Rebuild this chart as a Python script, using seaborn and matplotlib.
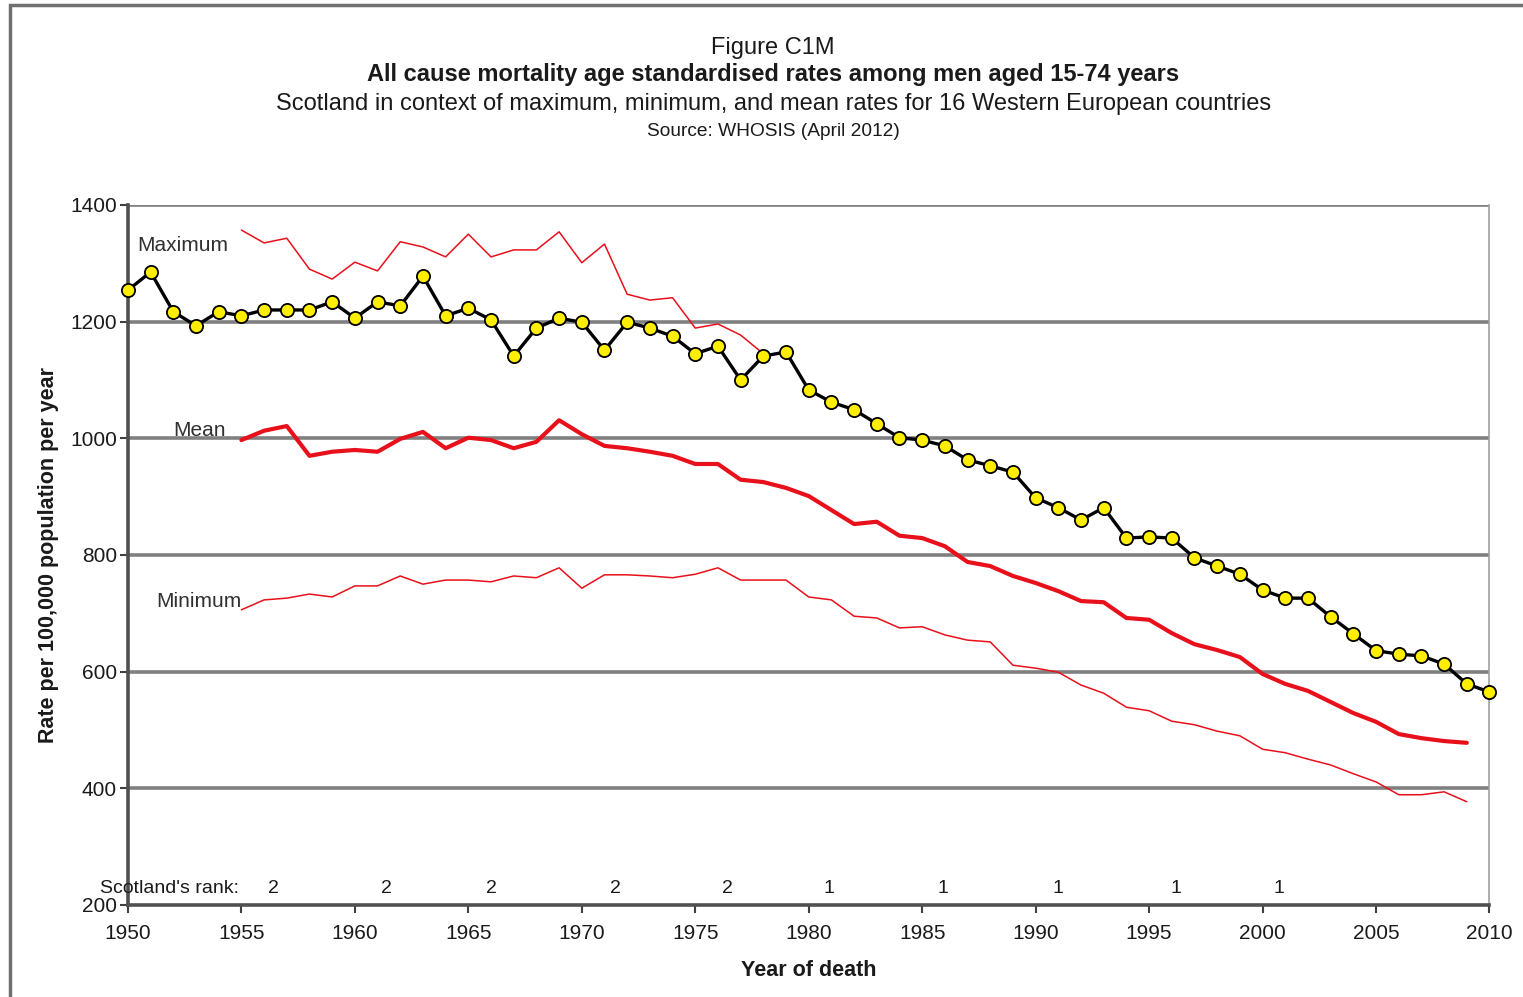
import numpy as np
import pandas as pd
import seaborn as sns
from matplotlib import pyplot as plt
from matplotlib.patches import Rectangle

# Scotland, 1950-2010
years = list(range(1950, 2011))
scotland = [1254, 1285, 1217, 1193, 1217, 1210, 1220, 1220, 1220, 1234,
            1206, 1234, 1227, 1278, 1210, 1223, 1203, 1141, 1189, 1206,
            1199, 1151, 1199, 1189, 1175, 1145, 1158, 1100, 1141, 1148,
            1083, 1062, 1049, 1025, 1001, 997, 987, 963, 953, 942,
            898, 881, 860, 881, 829, 831, 829, 795, 781, 767,
            740, 726, 726, 694, 665, 636, 630, 627, 613, 579, 565]

# Western Europe max (visible until Scotland becomes the maximum)
max_years = list(range(1955, 1979))
max_rate = [1357, 1335, 1343, 1290, 1273, 1302, 1287, 1337, 1328, 1311,
            1350, 1311, 1323, 1323, 1354, 1301, 1333, 1247, 1237, 1241,
            1189, 1196, 1177, 1145]

# mean and minimum, 1955-2009
wy = list(range(1955, 2010))
mean_rate = [997, 1013, 1021, 970, 977, 980, 977, 999, 1011, 983,
             1001, 997, 983, 994, 1031, 1007, 987, 983, 977, 970,
             956, 956, 929, 925, 915, 901, 877, 853, 857, 833,
             829, 815, 788, 781, 764, 752, 738, 721, 719, 692,
             689, 666, 647, 637, 625, 596, 579, 567, 548, 529,
             514, 493, 486, 481, 478]
min_rate = [706, 723, 726, 733, 728, 747, 747, 764, 750, 757,
            757, 754, 764, 761, 778, 743, 766, 766, 764, 761,
            767, 778, 757, 757, 757, 728, 723, 695, 692, 675,
            677, 663, 654, 651, 611, 606, 599, 577, 563, 539,
            533, 515, 509, 498, 490, 467, 461, 450, 440, 425,
            411, 389, 389, 394, 377]

rank_x = [1956.4, 1961.4, 1966.0, 1971.5, 1976.4, 1980.9, 1985.9, 1991.0, 1996.2, 2000.7]
rank_val = ['2', '2', '2', '2', '2', '1', '1', '1', '1', '1']

scot_df = pd.DataFrame({'year': years, 'rate': scotland})
max_df = pd.DataFrame({'year': max_years, 'rate': max_rate})
wdf = pd.DataFrame({'year': wy, 'mean': mean_rate, 'min': min_rate})

sns.set_style('white')
plt.rcParams['font.family'] = ['Liberation Sans', 'DejaVu Sans']

red = '#e8101a'
grid = '#808080'
txt = '#1a1a1a'

fig = plt.figure(figsize=(15.23, 9.97), dpi=100)
ax = fig.add_axes([0.084, 0.0923, 0.894, 0.7021])

for v in [400, 600, 800, 1000, 1200, 1400]:
    ax.axhline(v, color=grid, lw=2.6, zorder=1)

sns.lineplot(data=max_df, x='year', y='rate', ax=ax, color=red, lw=1.1, zorder=2)
sns.lineplot(data=wdf, x='year', y='min', ax=ax, color=red, lw=1.1, zorder=2)
sns.lineplot(data=wdf, x='year', y='mean', ax=ax, color=red, lw=3.0, zorder=3)
sns.lineplot(data=scot_df, x='year', y='rate', ax=ax, color='black', lw=2.4,
             marker='o', markersize=9.5, markerfacecolor='#ffee00',
             markeredgecolor='black', markeredgewidth=1.3, zorder=5, clip_on=False)

ax.set_xlim(1950, 2010)
ax.set_ylim(200, 1400)
ax.set_xticks(range(1950, 2011, 5))
ax.set_yticks(range(200, 1401, 200))
ax.tick_params(axis='both', labelsize=15, direction='out', length=6, width=1.5,
               color='#404040', labelcolor=txt, bottom=True, left=True)
ax.tick_params(axis='y', pad=2)
ax.tick_params(axis='x', pad=8)

for s in ['left', 'bottom']:
    ax.spines[s].set_color('#505050')
    ax.spines[s].set_linewidth(2.6)
ax.spines['top'].set_visible(False)
ax.spines['right'].set_color('#a0a0a0')
ax.spines['right'].set_linewidth(1.2)

ax.set_xlabel('Year of death', fontsize=15.5, fontweight='bold', labelpad=12, color=txt)
ax.set_ylabel('Rate per 100,000 population per year', fontsize=15.5, fontweight='bold',
              labelpad=8, color=txt)

ax.text(1950.4, 1331, 'Maximum', fontsize=15, color='#303030', va='center', ha='left')
ax.text(1954.3, 1013, 'Mean', fontsize=15, color='#303030', va='center', ha='right')
ax.text(1955.0, 721, 'Minimum', fontsize=15, color='#303030', va='center', ha='right')

ax.text(1948.75, 229, "Scotland's rank:", fontsize=14, color=txt, va='center', ha='left')
for x, r in zip(rank_x, rank_val):
    ax.text(x, 229, r, fontsize=14, color=txt, va='center', ha='center')

cx = 0.5076
fig.text(cx, 1 - 48 / 997, 'Figure C1M', fontsize=17, ha='center', va='center', color=txt)
fig.text(cx, 1 - 75 / 997, 'All cause mortality age standardised rates among men aged 15-74 years',
         fontsize=17, fontweight='bold', ha='center', va='center', color=txt)
fig.text(cx, 1 - 104 / 997, 'Scotland in context of maximum, minimum, and mean rates for 16 Western European countries',
         fontsize=17, ha='center', va='center', color=txt)
fig.text(cx, 1 - 132 / 997, 'Source: WHOSIS (April 2012)', fontsize=13.8, ha='center', va='center', color=txt)

# screenshot frame
fig.patches.append(Rectangle((10 / 1523, -0.05), 1.1, 1 - 5 / 997 + 0.05, transform=fig.transFigure,
                             fill=False, edgecolor='#707070', lw=2.5, zorder=10))

fig.savefig('out.png', dpi=100)
